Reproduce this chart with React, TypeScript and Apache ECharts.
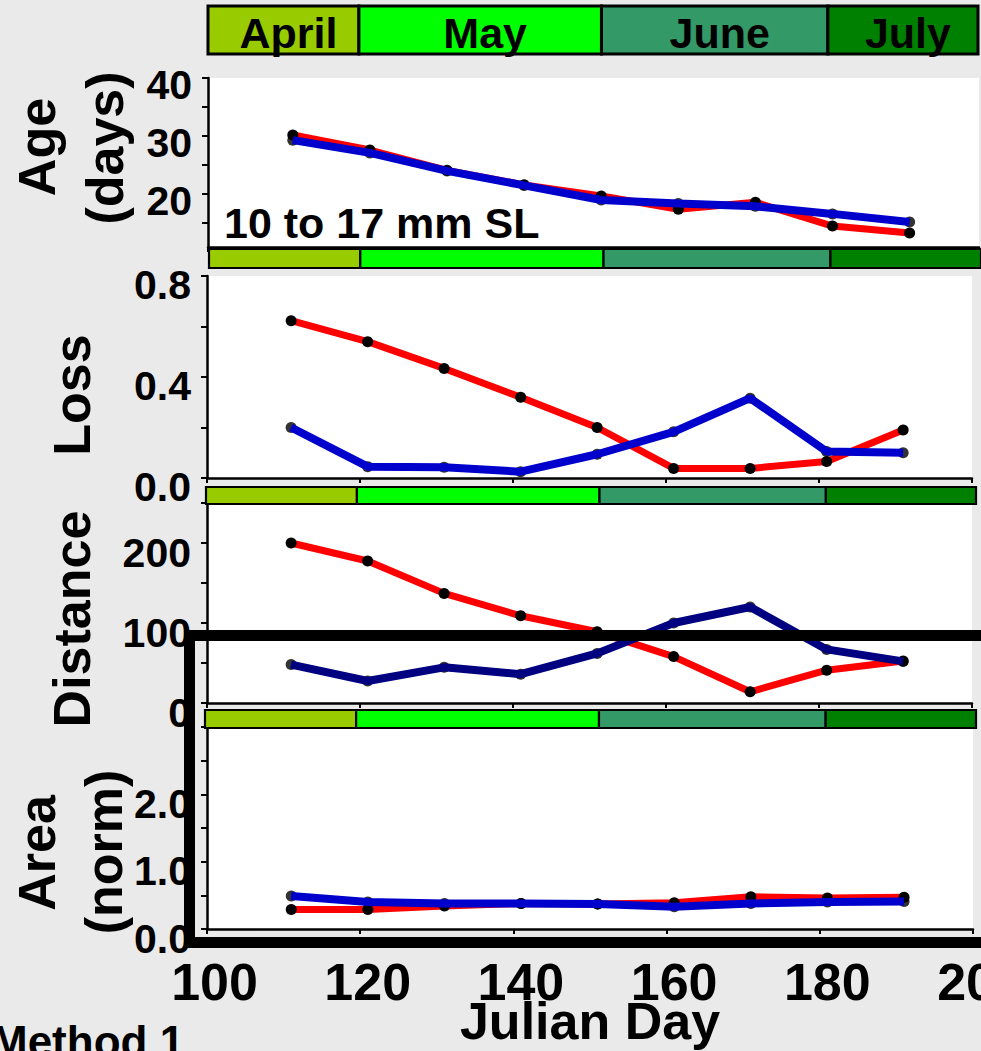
import React, { useEffect, useRef } from 'react';
import * as echarts from 'echarts';

// ---- data ----
const days = [111, 121, 131, 141, 151, 161, 171, 181, 191];
const ageRed = [30.2, 27.6, 24.1, 21.6, 19.7, 17.4, 18.6, 14.5, 13.3];
const ageBlue = [29.3, 27.1, 24.0, 21.5, 19.0, 18.4, 17.9, 16.6, 15.2];
const lossRed = [0.623, 0.54, 0.434, 0.32, 0.2, 0.038, 0.038, 0.065, 0.19];
const lossBlue = [0.2, 0.045, 0.043, 0.025, 0.094, 0.183, 0.316, 0.105, 0.1];
const distRed = [200, 177.5, 137, 109, 89, 58, 14, 41, 52.5];
const distBlue = [48, 27.5, 44.6, 36, 62, 100, 120, 67, 52];
const areaRed = [0.29, 0.29, 0.34, 0.38, 0.37, 0.39, 0.48, 0.46, 0.47];
const areaBlue = [0.49, 0.4, 0.38, 0.38, 0.37, 0.33, 0.38, 0.4, 0.41];

const monthNames = ['April', 'May', 'June', 'July'];
const monthStarts = [100, 119.6, 151.1, 180.5];
const monthEnds = [119.6, 151.1, 180.5, 200];
const monthColors = ['#99cc00', '#00ff00', '#339966', '#008000'];

const ageTicks = [15, 20, 25, 30, 35, 40];
const ageLabels = [20, 30, 40];
const lossLabels = [0, 0.4, 0.8];
const distLabels = [0, 100, 200];
const areaLabels = [0, 1, 2];

const FONT = '"Liberation Sans", Arial, sans-serif';
const RED = '#ff0000';
const BLUE = '#0000cc';
const NAVY = '#000080';

const pairs = (ys: number[]) => days.map((d, i) => [d, ys[i]]);
const monthData = monthStarts.map((s, i) => [s, monthEnds[i]]);

function App() {
  const ref = useRef<HTMLDivElement>(null);

  useEffect(() => {
    if (!ref.current) return;
    const chart = echarts.init(ref.current, null, { renderer: 'svg' });

    const panelGrids = [
      { left: 208, top: 78, width: 771, height: 169 },
      { left: 207, top: 276, width: 765, height: 202 },
      { left: 207, top: 503, width: 765, height: 200 },
      { left: 207, top: 727, width: 766, height: 202 },
    ];
    const barGrids = [
      { left: 208, top: 6, width: 770, height: 48 },
      { left: 209, top: 249, width: 772, height: 19 },
      { left: 206, top: 487, width: 770, height: 17 },
      { left: 205, top: 710, width: 771, height: 18 },
    ];

    const grids: any[] = [];
    const xAxes: any[] = [];
    const yAxes: any[] = [];
    const series: any[] = [];

    const axisLine = { show: true, lineStyle: { color: '#000', width: 2.5 } };
    const tickStyle = { show: true, inside: false, length: 6, lineStyle: { color: '#000', width: 2 } };
    const labelBase = { color: '#000', fontSize: 41, fontWeight: 'bold', fontFamily: FONT };

    // month bar grids
    barGrids.forEach((g, bi) => {
      const gi = grids.length;
      grids.push({ ...g, show: false, containLabel: false, outerBoundsMode: 'none' });
      xAxes.push({ gridIndex: gi, type: 'value', min: 100, max: 200, show: false });
      yAxes.push({ gridIndex: gi, type: 'value', min: 0, max: 1, show: false });
      const withText = bi === 0;
      const lw = bi === 0 ? 3 : 2.2;
      series.push({
        type: 'custom',
        xAxisIndex: gi,
        yAxisIndex: gi,
        z: 5,
        data: monthData,
        renderItem: (params: any, api: any) => {
          const s = api.coord([api.value(0), 1]);
          const e = api.coord([api.value(1), 0]);
          const idx = params.dataIndex;
          const children: any[] = [
            {
              type: 'rect',
              shape: { x: s[0], y: s[1], width: e[0] - s[0], height: e[1] - s[1] },
              style: { fill: monthColors[idx], stroke: '#000', lineWidth: lw },
            },
          ];
          if (withText) {
            children.push({
              type: 'text',
              style: {
                text: monthNames[idx],
                x: (s[0] + e[0]) / 2 + 5,
                y: (s[1] + e[1]) / 2 + 3,
                textAlign: 'center',
                textVerticalAlign: 'middle',
                font: `bold 43px ${FONT}`,
                fill: '#000',
              },
            });
          }
          return { type: 'group', children };
        },
      });
    });

    const panels = [
      {
        red: ageRed, blue: ageBlue, blueColor: BLUE,
        y: {
          min: 10.9, max: 40,
          axisTick: { ...tickStyle, customValues: ageTicks },
          axisLabel: {
            ...labelBase, margin: 16, verticalAlign: 'top', lineHeight: 14,
            customValues: ageLabels, formatter: (v: number) => String(v),
          },
        },
      },
      {
        red: lossRed, blue: lossBlue, blueColor: BLUE,
        y: {
          min: 0, max: 0.8, interval: 0.2,
          axisTick: tickStyle,
          axisLabel: {
            ...labelBase, margin: 16, verticalAlign: 'top', lineHeight: 18,
            formatter: (v: number) => (lossLabels.some((s) => Math.abs(s - v) < 1e-6) ? v.toFixed(1) : ''),
          },
        },
      },
      {
        red: distRed, blue: distBlue, blueColor: NAVY,
        y: {
          min: 0, max: 250, interval: 50,
          axisTick: tickStyle,
          axisLabel: {
            ...labelBase, margin: 16, verticalAlign: 'top', lineHeight: 19,
            formatter: (v: number) => (distLabels.some((s) => Math.abs(s - v) < 1e-6) ? String(v) : ''),
          },
        },
      },
      {
        red: areaRed, blue: areaBlue, blueColor: BLUE,
        y: {
          min: 0, max: 3, interval: 0.5,
          axisTick: tickStyle,
          axisLabel: {
            ...labelBase, margin: 16, verticalAlign: 'top', lineHeight: 19,
            formatter: (v: number) => (areaLabels.some((s) => Math.abs(s - v) < 1e-6) ? v.toFixed(1) : ''),
          },
        },
      },
    ];

    panels.forEach((p, pi) => {
      const gi = grids.length;
      grids.push({
        ...panelGrids[pi], show: true, backgroundColor: '#ffffff', borderWidth: 0,
        containLabel: false, outerBoundsMode: 'none',
      });
      const last = pi === panels.length - 1;
      xAxes.push({
        gridIndex: gi, type: 'value', min: 100, max: 200, interval: 20,
        axisLine, axisTick: { ...tickStyle, length: 5 }, splitLine: { show: false },
        axisLabel: last
          ? { ...labelBase, fontSize: 52, margin: 27, padding: [0, 0, 0, 15] }
          : { show: false },
        name: last ? 'Julian Day' : '',
        nameLocation: 'middle',
        nameGap: 66,
        nameMoveOverlap: false,
        nameTextStyle: { color: '#000', fontSize: 52, fontWeight: 'bold', fontFamily: FONT, verticalAlign: 'top' },
      });
      yAxes.push({ gridIndex: gi, type: 'value', axisLine, splitLine: { show: false }, ...p.y });
      series.push({
        type: 'line', xAxisIndex: gi, yAxisIndex: gi, z: 2,
        data: pairs(p.red),
        showSymbol: true, symbol: 'circle', symbolSize: 11,
        itemStyle: { color: '#000' },
        lineStyle: { color: RED, width: 7 },
      });
      series.push({
        type: 'scatter', xAxisIndex: gi, yAxisIndex: gi, z: 3,
        data: pairs(p.blue), symbol: 'circle', symbolSize: 11,
        itemStyle: { color: '#000' },
      });
      series.push({
        type: 'line', xAxisIndex: gi, yAxisIndex: gi, z: 4,
        data: pairs(p.blue), showSymbol: false,
        lineStyle: { color: p.blueColor, width: 8 },
      });
    });

    const titleFont = `bold 52px ${FONT}`;
    const rotText = (text: string, x: number, y: number) => ({
      type: 'text', x, y, rotation: Math.PI / 2, z: 50,
      style: { text, font: titleFont, fill: '#000', textAlign: 'center', textVerticalAlign: 'middle' },
    });

    chart.setOption({
      animation: false,
      backgroundColor: '#eaeaea',
      grid: grids,
      xAxis: xAxes,
      yAxis: yAxes,
      series,
      graphic: [
        rotText('Age', 37, 147),
        rotText('(days)', 105, 148),
        rotText('Loss', 72, 395),
        rotText('Distance', 72, 619),
        rotText('Area', 37, 853),
        rotText('(norm)', 104, 852),
        {
          type: 'text', x: 224, y: 223, z: 50,
          style: { text: '10 to 17 mm SL', font: `bold 43px ${FONT}`, fill: '#000', textAlign: 'left', textVerticalAlign: 'middle' },
        },
        {
          type: 'text', x: -9, y: 1019, z: 50,
          style: { text: 'Method 1', font: `bold 44px ${FONT}`, fill: '#000', textAlign: 'left', textVerticalAlign: 'top' },
        },
        {
          type: 'rect', z: 100,
          shape: { x: 189.5, y: 635.5, width: 900, height: 307 },
          style: { fill: 'transparent', stroke: '#000', lineWidth: 11 },
        },
      ],
    });

    return () => chart.dispose();
  }, []);

  return (
    <div
      ref={ref}
      style={{ position: 'absolute', left: 0, top: 0, width: 981, height: 1051, background: '#eaeaea' }}
    />
  );
}

export default App;
